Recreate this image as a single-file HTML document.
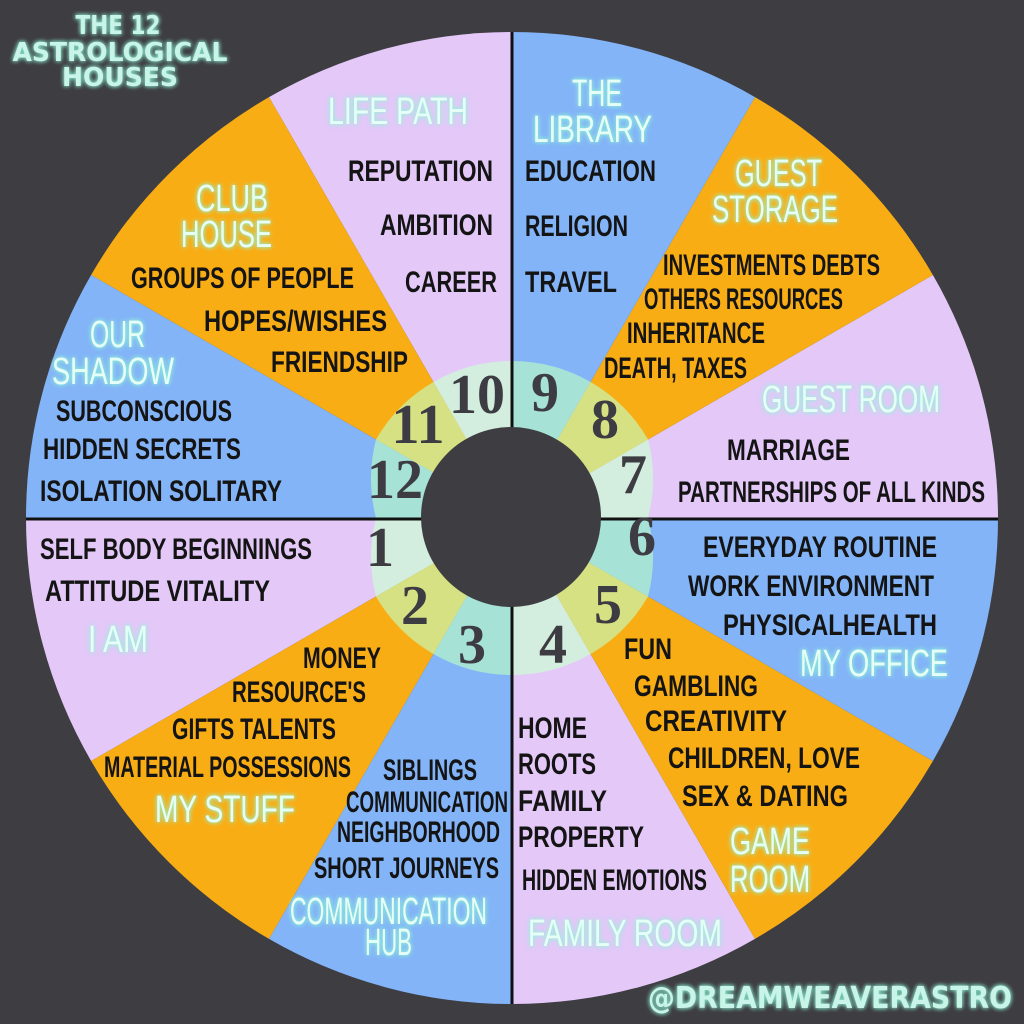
<!DOCTYPE html>
<html><head><meta charset="utf-8"><style>
html,body{margin:0;padding:0;background:#3e3d42;}
svg{display:block}
.b{font-family:"Liberation Sans Narrow","Liberation Sans",sans-serif;fill:#141414;font-size:30px;font-weight:bold;}
.w{font-family:"Liberation Sans Narrow","Liberation Sans",sans-serif;fill:#e6fff6;font-size:38px;filter:url(#glow);}
.n{font-family:"Liberation Serif","DejaVu Serif",serif;font-weight:bold;fill:#3d3c42;font-size:56px;text-anchor:middle;dominant-baseline:central;}
</style></head><body>
<svg width="1024" height="1024" viewBox="0 0 1024 1024" xmlns="http://www.w3.org/2000/svg">
<defs><filter id="glow" x="-20%" y="-40%" width="140%" height="180%"><feGaussianBlur stdDeviation="2.5" result="b"/><feFlood flood-color="#8ff5d8" flood-opacity="0.8"/><feComposite in2="b" operator="in" result="g"/><feMerge><feMergeNode in="g"/><feMergeNode in="g"/><feMergeNode in="SourceGraphic"/></feMerge></filter></defs>
<rect width="1024" height="1024" fill="#3e3d42"/>
<g>
<path d="M512 518 L998 518 A486 486 0 0 0 932.9 275Z" fill="#e3c8f8"/>
<path d="M512 518 L932.9 275 A486 486 0 0 0 755 97.1Z" fill="#f9ad14"/>
<path d="M512 518 L755 97.1 A486 486 0 0 0 512 32Z" fill="#83b4f7"/>
<path d="M512 518 L512 32 A486 486 0 0 0 269 97.1Z" fill="#e3c8f8"/>
<path d="M512 518 L269 97.1 A486 486 0 0 0 91.1 275Z" fill="#f9ad14"/>
<path d="M512 518 L91.1 275 A486 486 0 0 0 26 518Z" fill="#83b4f7"/>
<path d="M512 518 L26 518 A486 486 0 0 0 91.1 761Z" fill="#e3c8f8"/>
<path d="M512 518 L91.1 761 A486 486 0 0 0 269 938.9Z" fill="#f9ad14"/>
<path d="M512 518 L269 938.9 A486 486 0 0 0 512 1004Z" fill="#83b4f7"/>
<path d="M512 518 L512 1004 A486 486 0 0 0 755 938.9Z" fill="#e3c8f8"/>
<path d="M512 518 L755 938.9 A486 486 0 0 0 932.9 761Z" fill="#f9ad14"/>
<path d="M512 518 L932.9 761 A486 486 0 0 0 998 518Z" fill="#83b4f7"/>
</g>
<g>
<path d="M512 518 L648 518 A157 157 0 0 0 648 439.5Z" fill="#d3eedf"/>
<path d="M512 518 L648 439.5 A157 157 0 0 0 590.5 382Z" fill="#d6e184"/>
<path d="M512 518 L590.5 382 A157 157 0 0 0 512 361Z" fill="#a7e2d6"/>
<path d="M512 518 L512 361 A157 157 0 0 0 433.5 382Z" fill="#d3eedf"/>
<path d="M512 518 L433.5 382 A157 157 0 0 0 376 439.5Z" fill="#d6e184"/>
<path d="M512 518 L376 439.5 A157 157 0 0 0 376 518Z" fill="#a7e2d6"/>
<path d="M512 518 L376 518 A157 157 0 0 0 376 596.5Z" fill="#d3eedf"/>
<path d="M512 518 L376 596.5 A157 157 0 0 0 433.5 654Z" fill="#d6e184"/>
<path d="M512 518 L433.5 654 A157 157 0 0 0 512 675Z" fill="#a7e2d6"/>
<path d="M512 518 L512 675 A157 157 0 0 0 590.5 654Z" fill="#d3eedf"/>
<path d="M512 518 L590.5 654 A157 157 0 0 0 648 596.5Z" fill="#d6e184"/>
<path d="M512 518 L648 596.5 A157 157 0 0 0 648 518Z" fill="#a7e2d6"/>
</g>
<line x1="512" y1="32" x2="512" y2="1004" stroke="#111" stroke-width="3"/>
<line x1="26" y1="519" x2="998" y2="519" stroke="#111" stroke-width="3"/>
<circle cx="511" cy="517" r="90" fill="#3e3d42"/>
<text class="n" x="477" y="395">10</text><text class="n" x="545" y="393">9</text>
<text class="n" x="605" y="420">8</text><text class="n" x="633" y="475">7</text>
<text class="n" x="642" y="537">6</text><text class="n" x="608" y="605">5</text>
<text class="n" x="553" y="645">4</text><text class="n" x="472" y="645">3</text>
<text class="n" x="415" y="606">2</text><text class="n" x="380" y="548">1</text>
<text class="n" x="395" y="480">12</text><text class="n" x="418" y="425">11</text>

<g font-weight="bold" style="font-family:'DejaVu Sans','Liberation Sans',sans-serif;fill:#c8f5e8;filter:url(#glow);font-size:26px" text-anchor="middle">
<text x="118" y="34" textLength="85" lengthAdjust="spacingAndGlyphs">THE 12</text>
<text x="120" y="61" textLength="215" lengthAdjust="spacingAndGlyphs">ASTROLOGICAL</text>
<text x="120" y="86" textLength="116" lengthAdjust="spacingAndGlyphs">HOUSES</text>
<text x="830" y="1008" font-size="30" textLength="364" lengthAdjust="spacingAndGlyphs">@DREAMWEAVERASTRO</text>
</g>

<g>
<text class="w" x="328" y="124" textLength="140" lengthAdjust="spacingAndGlyphs">LIFE PATH</text>
<text class="b" x="348" y="181" textLength="145" lengthAdjust="spacingAndGlyphs">REPUTATION</text>
<text class="b" x="380" y="235" textLength="113" lengthAdjust="spacingAndGlyphs">AMBITION</text>
<text class="b" x="405" y="292" textLength="92" lengthAdjust="spacingAndGlyphs">CAREER</text>

<text class="w" x="572" y="106" textLength="50" lengthAdjust="spacingAndGlyphs">THE</text>
<text class="w" x="533" y="142" textLength="119" lengthAdjust="spacingAndGlyphs">LIBRARY</text>
<text class="b" x="525" y="181" textLength="131" lengthAdjust="spacingAndGlyphs">EDUCATION</text>
<text class="b" x="525" y="236" textLength="103" lengthAdjust="spacingAndGlyphs">RELIGION</text>
<text class="b" x="525" y="292" textLength="92" lengthAdjust="spacingAndGlyphs">TRAVEL</text>

<text class="w" x="735" y="186" textLength="87" lengthAdjust="spacingAndGlyphs">GUEST</text>
<text class="w" x="712" y="222" textLength="126" lengthAdjust="spacingAndGlyphs">STORAGE</text>
<text class="b" font-size="26" x="663" y="275" textLength="217" lengthAdjust="spacingAndGlyphs">INVESTMENTS  DEBTS</text>
<text class="b" font-size="26" x="644" y="309" textLength="199" lengthAdjust="spacingAndGlyphs">OTHERS RESOURCES</text>
<text class="b" font-size="26" x="627" y="343" textLength="138" lengthAdjust="spacingAndGlyphs">INHERITANCE</text>
<text class="b" font-size="26" x="604" y="378" textLength="143" lengthAdjust="spacingAndGlyphs">DEATH, TAXES</text>

<text class="w" x="762" y="412" textLength="178" lengthAdjust="spacingAndGlyphs">GUEST ROOM</text>
<text class="b" x="727" y="460" textLength="123" lengthAdjust="spacingAndGlyphs">MARRIAGE</text>
<text class="b" font-size="26" x="678" y="502" textLength="307" lengthAdjust="spacingAndGlyphs">PARTNERSHIPS OF ALL KINDS</text>

<text class="b" x="703" y="557" textLength="234" lengthAdjust="spacingAndGlyphs">EVERYDAY ROUTINE</text>
<text class="b" x="688" y="596" textLength="246" lengthAdjust="spacingAndGlyphs">WORK ENVIRONMENT</text>
<text class="b" x="723" y="635" textLength="214" lengthAdjust="spacingAndGlyphs">PHYSICALHEALTH</text>
<text class="w" x="800" y="676" textLength="148" lengthAdjust="spacingAndGlyphs">MY OFFICE</text>

<text class="b" x="624" y="659" textLength="48" lengthAdjust="spacingAndGlyphs">FUN</text>
<text class="b" x="634" y="696" textLength="124" lengthAdjust="spacingAndGlyphs">GAMBLING</text>
<text class="b" x="645" y="731" textLength="142" lengthAdjust="spacingAndGlyphs">CREATIVITY</text>
<text class="b" x="668" y="768" textLength="192" lengthAdjust="spacingAndGlyphs">CHILDREN, LOVE</text>
<text class="b" x="682" y="806" textLength="166" lengthAdjust="spacingAndGlyphs">SEX &amp; DATING</text>
<text class="w" x="730" y="854" textLength="80" lengthAdjust="spacingAndGlyphs">GAME</text>
<text class="w" x="730" y="892" textLength="80" lengthAdjust="spacingAndGlyphs">ROOM</text>

<text class="b" x="518" y="738" textLength="69" lengthAdjust="spacingAndGlyphs">HOME</text>
<text class="b" x="518" y="774" textLength="78" lengthAdjust="spacingAndGlyphs">ROOTS</text>
<text class="b" x="518" y="811" textLength="89" lengthAdjust="spacingAndGlyphs">FAMILY</text>
<text class="b" x="518" y="847" textLength="126" lengthAdjust="spacingAndGlyphs">PROPERTY</text>
<text class="b" font-size="26" x="522" y="890" textLength="185" lengthAdjust="spacingAndGlyphs">HIDDEN EMOTIONS</text>
<text class="w" x="528" y="946" textLength="194" lengthAdjust="spacingAndGlyphs">FAMILY ROOM</text>

<text class="b" font-size="26" x="383" y="780" textLength="94" lengthAdjust="spacingAndGlyphs">SIBLINGS</text>
<text class="b" font-size="24" x="346" y="812" textLength="162" lengthAdjust="spacingAndGlyphs">COMMUNICATION</text>
<text class="b" font-size="26" x="337" y="842" textLength="163" lengthAdjust="spacingAndGlyphs">NEIGHBORHOOD</text>
<text class="b" font-size="26" x="314" y="878" textLength="185" lengthAdjust="spacingAndGlyphs">SHORT JOURNEYS</text>
<text class="w" font-size="34" x="290" y="924" textLength="197" lengthAdjust="spacingAndGlyphs">COMMUNICATION</text>
<text class="w" font-size="34" x="365" y="955" textLength="47" lengthAdjust="spacingAndGlyphs">HUB</text>

<text class="b" font-size="26" x="303" y="668" textLength="78" lengthAdjust="spacingAndGlyphs">MONEY</text>
<text class="b" font-size="26" x="232" y="702" textLength="134" lengthAdjust="spacingAndGlyphs">RESOURCE'S</text>
<text class="b" font-size="28" x="172" y="739" textLength="164" lengthAdjust="spacingAndGlyphs">GIFTS TALENTS</text>
<text class="b" font-size="26" x="104" y="777" textLength="247" lengthAdjust="spacingAndGlyphs">MATERIAL POSSESSIONS</text>
<text class="w" x="155" y="822" textLength="140" lengthAdjust="spacingAndGlyphs">MY STUFF</text>

<text class="b" x="40" y="559" textLength="272" lengthAdjust="spacingAndGlyphs">SELF BODY BEGINNINGS</text>
<text class="b" x="45" y="601" textLength="225" lengthAdjust="spacingAndGlyphs">ATTITUDE VITALITY</text>
<text class="w" x="88" y="652" textLength="60" lengthAdjust="spacingAndGlyphs">I AM</text>

<text class="w" x="90" y="347" textLength="55" lengthAdjust="spacingAndGlyphs">OUR</text>
<text class="w" x="52" y="384" textLength="122" lengthAdjust="spacingAndGlyphs">SHADOW</text>
<text class="b" x="56" y="421" textLength="176" lengthAdjust="spacingAndGlyphs">SUBCONSCIOUS</text>
<text class="b" x="43" y="459" textLength="198" lengthAdjust="spacingAndGlyphs">HIDDEN SECRETS</text>
<text class="b" x="40" y="501" textLength="242" lengthAdjust="spacingAndGlyphs">ISOLATION SOLITARY</text>

<text class="w" x="196" y="211" textLength="72" lengthAdjust="spacingAndGlyphs">CLUB</text>
<text class="w" x="181" y="247" textLength="91" lengthAdjust="spacingAndGlyphs">HOUSE</text>
<text class="b" x="131" y="288" textLength="223" lengthAdjust="spacingAndGlyphs">GROUPS OF PEOPLE</text>
<text class="b" x="204" y="331" textLength="183" lengthAdjust="spacingAndGlyphs">HOPES/WISHES</text>
<text class="b" x="271" y="372" textLength="137" lengthAdjust="spacingAndGlyphs">FRIENDSHIP</text>
</g>
</svg>
</body></html>
